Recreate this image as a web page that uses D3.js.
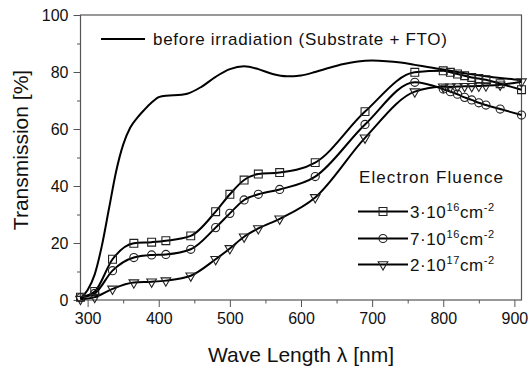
<!DOCTYPE html>
<html>
<head>
<meta charset="utf-8">
<script src="https://cdn.jsdelivr.net/npm/d3@7"></script>
<style>
  body { margin: 0; background: #fff; }
  text { font-family: "Liberation Sans", Arial, sans-serif; fill: #111; }
</style>
</head>
<body>
<div id="chart"></div>
<script>
// data
const beforeWl = [290, 300, 310, 320, 330, 340, 350, 360, 370, 380, 390, 400, 410, 420, 440, 460, 480, 500, 520, 540, 560, 580, 600, 620, 640, 660, 680, 700, 720, 740, 760, 780, 800, 820, 840, 860, 880, 900, 910];
const beforeT = [0.5, 3.5, 9, 19, 32, 45, 54.5, 60.5, 64, 66.8, 69.3, 71.2, 71.7, 71.8, 72.4, 74.8, 78.3, 81, 82, 81, 79.3, 78.5, 78.8, 80, 81.5, 82.8, 83.7, 84, 83.8, 83.3, 82.5, 81.7, 80.9, 80, 79.2, 78.5, 77.9, 77.4, 77.2];

const markWl = [290, 310, 335, 365, 390, 410, 445, 480, 500, 520, 540, 570, 620, 690, 760, 800, 810, 820, 830, 840, 850, 860, 880, 910];
const fluence3e16 = [1.0, 3.0, 14.3, 19.9, 20.3, 20.8, 22.5, 31, 37.1, 42.1, 44.2, 44.7, 48.2, 66.1, 79.9, 80.4, 79.9, 79.3, 78.7, 78.1, 77.7, 77.3, 75.9, 73.8];
const fluence7e16 = [0.8, 2.3, 10.3, 14.9, 15.8, 16.0, 17.8, 25.4, 30.4, 35.1, 37.1, 38.8, 43.3, 61.6, 76.4, 74.0, 73.1, 72.2, 71.1, 70.2, 69.2, 68.4, 67.0, 64.9];
const fluence2e17 = [0.3, 1.0, 3.9, 6.1, 6.4, 6.8, 8.5, 14.3, 18.1, 22.2, 25.1, 28.5, 36.0, 56.9, 73.1, 74.8, 74.8, 74.9, 75.0, 75.0, 75.1, 75.2, 75.5, 76.6];

const xMajor = [300, 400, 500, 600, 700, 800, 900];
const xMinor = [350, 450, 550, 650, 750, 850];
const yMajor = [0, 20, 40, 60, 80, 100];
const yMinor = [10, 30, 50, 70, 90];

const series = [
  { name: "3·10", sup: "16", values: fluence3e16, symbol: "square" },
  { name: "7·10", sup: "16", values: fluence7e16, symbol: "circle" },
  { name: "2·10", sup: "17", values: fluence2e17, symbol: "triangle" }
];

const width = 528, height = 371;
const svg = d3.select("#chart").append("svg")
  .attr("width", width).attr("height", height);

const x = d3.scaleLinear().domain([290, 910]).range([80.5, 521.5]);
const y = d3.scaleLinear().domain([0, 100]).range([300, 15]);

// axes
const axisColor = "#555";
function styleAxis(g) {
  g.select(".domain").remove();
  g.selectAll("line").attr("stroke", axisColor).attr("stroke-width", 1);
  g.selectAll("text").style("font-size", "16px").attr("fill", "#111");
}
svg.append("g").attr("transform", "translate(0,300)")
  .call(d3.axisBottom(x).tickValues(xMajor).tickSize(7).tickPadding(6))
  .call(styleAxis);
svg.append("g").attr("transform", "translate(0,300)")
  .call(d3.axisBottom(x).tickValues(xMinor).tickSize(3.5).tickFormat(""))
  .call(styleAxis);
svg.append("g").attr("transform", "translate(80.5,0)")
  .call(d3.axisLeft(y).tickValues(yMajor).tickSize(7).tickPadding(5))
  .call(styleAxis);
svg.append("g").attr("transform", "translate(80.5,0)")
  .call(d3.axisLeft(y).tickValues(yMinor).tickSize(3.5).tickFormat(""))
  .call(styleAxis);

svg.append("rect")
  .attr("x", x(290)).attr("y", y(100))
  .attr("width", x(910) - x(290)).attr("height", y(0) - y(100))
  .attr("fill", "none").attr("stroke", axisColor).attr("stroke-width", 1.2);

// axis titles
svg.append("text")
  .attr("x", 301).attr("y", 362)
  .attr("text-anchor", "middle")
  .style("font-size", "21px")
  .text("Wave Length λ [nm]");
svg.append("text")
  .attr("transform", "translate(27.5,150) rotate(-90)")
  .attr("text-anchor", "middle")
  .style("font-size", "21px")
  .text("Transmission [%]");

// curves
const line = d3.line()
  .x(d => x(d[0]))
  .y(d => y(d[1]))
  .curve(d3.curveMonotoneX);

const plot = svg.append("g");

plot.append("path")
  .datum(beforeWl.map((w, i) => [w, beforeT[i]]))
  .attr("d", line)
  .attr("fill", "none").attr("stroke", "#000").attr("stroke-width", 2);

const symbols = {
  square: d3.symbol().type(d3.symbolSquare).size(62),
  circle: d3.symbol().type(d3.symbolCircle).size(52),
  triangle: d3.symbol().type(d3.symbolTriangle).size(40)
};

function drawMarker(g, type, cx, cy) {
  g.append("path")
    .attr("d", symbols[type]())
    .attr("transform", `translate(${cx},${cy})` + (type === "triangle" ? " rotate(180)" : ""))
    .attr("fill", "none")
    .attr("stroke", "#222")
    .attr("stroke-width", 1.1);
}

series.forEach(s => {
  const pts = markWl.map((w, i) => [w, s.values[i]]);
  plot.append("path")
    .datum(pts)
    .attr("d", line)
    .attr("fill", "none").attr("stroke", "#000").attr("stroke-width", 2);
  const mg = plot.append("g");
  pts.forEach(p => drawMarker(mg, s.symbol, x(p[0]), y(p[1])));
});

// legend: before irradiation
svg.append("line")
  .attr("x1", 101).attr("x2", 145).attr("y1", 39).attr("y2", 39)
  .attr("stroke", "#000").attr("stroke-width", 2);
svg.append("text")
  .attr("x", 153).attr("y", 45)
  .style("font-size", "17px")
  .style("letter-spacing", "0.7px")
  .text("before irradiation (Substrate + FTO)");

// legend: electron fluence
svg.append("text")
  .attr("x", 359).attr("y", 183)
  .style("font-size", "17px")
  .style("letter-spacing", "1.1px")
  .text("Electron Fluence");

const legendY = [211.5, 238.5, 264.5];
series.forEach((s, i) => {
  const ly = legendY[i];
  const g = svg.append("g");
  g.append("line")
    .attr("x1", 358).attr("x2", 408).attr("y1", ly).attr("y2", ly)
    .attr("stroke", "#000").attr("stroke-width", 2);
  drawMarker(g, s.symbol, 383, ly);
  const t = g.append("text")
    .attr("x", 410).attr("y", ly + 6)
    .style("font-size", "17px")
    .style("letter-spacing", "0.6px");
  t.append("tspan").text(s.name);
  t.append("tspan").attr("dy", -7).style("font-size", "11px").text(s.sup);
  t.append("tspan").attr("dy", 7).text("cm");
  t.append("tspan").attr("dy", -7).style("font-size", "11px").text("-2");
});
</script>
</body>
</html>
